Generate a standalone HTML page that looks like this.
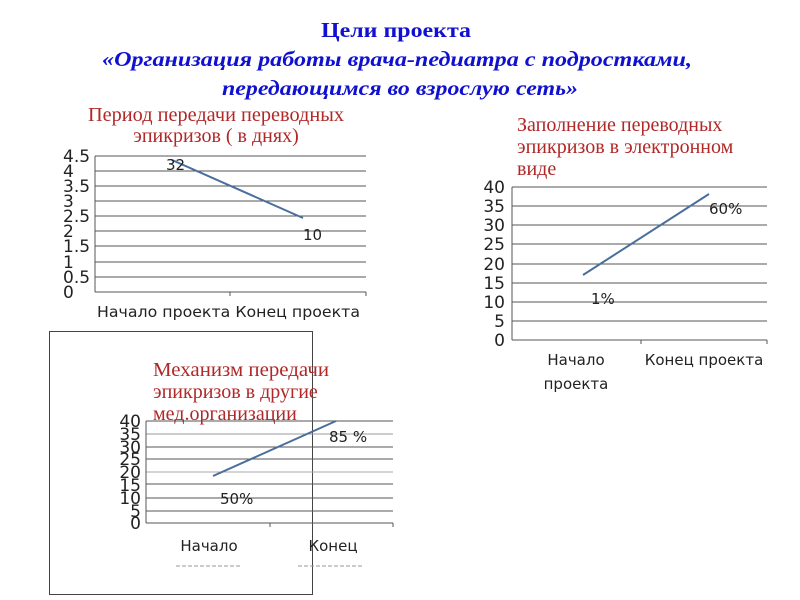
<!DOCTYPE html>
<html><head><meta charset="utf-8"><style>
html,body{margin:0;padding:0;background:#fff;}
svg{display:block;}
.t{font-family:"Liberation Serif","DejaVu Serif",serif;font-weight:bold;fill:#1010D0;font-size:21px;}
.ct{font-family:"Liberation Serif","DejaVu Serif",serif;fill:#B02828;font-size:20px;}
.ax{font-family:"DejaVu Sans","Liberation Sans",sans-serif;fill:#222;font-size:15px;}
.yl{font-family:"DejaVu Sans","Liberation Sans",sans-serif;fill:#222;font-size:17px;}
.g{stroke:#555;stroke-width:1;}
</style></head><body>
<svg width="800" height="600" viewBox="0 0 800 600" xmlns="http://www.w3.org/2000/svg">
<text class="t" x="396" y="37" text-anchor="middle" textLength="150" lengthAdjust="spacingAndGlyphs">Цели проекта</text>
<text class="t" x="397" y="66" text-anchor="middle" font-style="italic" textLength="590" lengthAdjust="spacingAndGlyphs">«Организация работы врача-педиатра с подростками,</text>
<text class="t" x="400" y="95" text-anchor="middle" font-style="italic" textLength="356" lengthAdjust="spacingAndGlyphs">передающимся во взрослую сеть»</text>

<!-- Chart 1 -->
<text class="ct" x="216" y="121" text-anchor="middle" textLength="256" lengthAdjust="spacingAndGlyphs">Период передачи переводных</text>
<text class="ct" x="216" y="142" text-anchor="middle">эпикризов ( в днях)</text>
<g class="g">
<line x1="95" y1="156" x2="366" y2="156"/><line x1="95" y1="171" x2="366" y2="171"/>
<line x1="95" y1="186" x2="366" y2="186"/><line x1="95" y1="201" x2="366" y2="201"/>
<line x1="95" y1="216" x2="366" y2="216"/><line x1="95" y1="231" x2="366" y2="231"/>
<line x1="95" y1="246" x2="366" y2="246"/><line x1="95" y1="262" x2="366" y2="262"/>
<line x1="95" y1="277" x2="366" y2="277"/><line x1="95" y1="292" x2="366" y2="292"/>
<line x1="95" y1="156" x2="95" y2="292"/><line x1="230" y1="292" x2="230" y2="296"/><line x1="366" y1="292" x2="366" y2="296"/>
</g>
<g class="yl">
<text x="63" y="162">4.5</text><text x="63" y="177">4</text><text x="63" y="192">3.5</text><text x="63" y="207">3</text>
<text x="63" y="222">2.5</text><text x="63" y="237">2</text><text x="63" y="252">1.5</text><text x="63" y="268">1</text>
<text x="63" y="283">0.5</text><text x="63" y="298">0</text>
</g>
<line x1="172" y1="160" x2="303" y2="218" stroke="#4A6E9E" stroke-width="2"/>
<text class="ax" x="166" y="170" font-size="16">32</text>
<text class="ax" x="303" y="240" font-size="16">10</text>
<text class="ax" x="97" y="317" textLength="263" lengthAdjust="spacingAndGlyphs">Начало проекта Конец проекта</text>

<!-- Chart 2 -->
<text class="ct" x="517" y="131">Заполнение переводных</text>
<text class="ct" x="517" y="153">эпикризов в электронном</text>
<text class="ct" x="517" y="175">виде</text>
<g class="g">
<line x1="512" y1="187" x2="767" y2="187"/><line x1="512" y1="206" x2="767" y2="206"/>
<line x1="512" y1="225" x2="767" y2="225"/><line x1="512" y1="244" x2="767" y2="244"/>
<line x1="512" y1="264" x2="767" y2="264"/><line x1="512" y1="283" x2="767" y2="283"/>
<line x1="512" y1="302" x2="767" y2="302"/><line x1="512" y1="321" x2="767" y2="321"/>
<line x1="512" y1="340" x2="767" y2="340"/>
<line x1="512" y1="187" x2="512" y2="340"/><line x1="641" y1="340" x2="641" y2="344"/><line x1="767" y1="340" x2="767" y2="344"/>
</g>
<g class="yl" text-anchor="end">
<text x="505" y="193">40</text><text x="505" y="212">35</text><text x="505" y="231">30</text><text x="505" y="250">25</text>
<text x="505" y="270">20</text><text x="505" y="289">15</text><text x="505" y="308">10</text><text x="505" y="327">5</text><text x="505" y="346">0</text>
</g>
<line x1="583" y1="275" x2="709" y2="194" stroke="#4A6E9E" stroke-width="2"/>
<text class="ax" x="709" y="214" font-size="16">60%</text>
<text class="ax" x="591" y="304" font-size="16">1%</text>
<text class="ax" x="576" y="365" text-anchor="middle">Начало</text>
<text class="ax" x="576" y="389" text-anchor="middle">проекта</text>
<text class="ax" x="704" y="365" text-anchor="middle">Конец проекта</text>

<!-- Chart 3 -->
<rect x="49.5" y="331.5" width="263" height="263" fill="none" stroke="#444" stroke-width="1"/>
<text class="ct" x="153" y="376" textLength="176" lengthAdjust="spacingAndGlyphs">Механизм передачи</text>
<text class="ct" x="153" y="398">эпикризов в другие</text>
<text class="ct" x="153" y="420">мед.организации</text>
<g class="g">
<line x1="146" y1="421" x2="393" y2="421"/><line x1="146" y1="434" x2="393" y2="434" stroke="#999"/>
<line x1="146" y1="447" x2="393" y2="447"/><line x1="146" y1="459" x2="393" y2="459"/>
<line x1="146" y1="472" x2="393" y2="472" stroke="#aaa"/><line x1="146" y1="484" x2="393" y2="484"/>
<line x1="146" y1="498" x2="393" y2="498"/><line x1="146" y1="511" x2="393" y2="511"/>
<line x1="146" y1="523" x2="393" y2="523"/>
<line x1="146" y1="421" x2="146" y2="523"/><line x1="270" y1="523" x2="270" y2="527"/><line x1="393" y1="523" x2="393" y2="527"/>
</g>
<g class="yl" text-anchor="end" font-size="17">
<text x="141" y="427">40</text><text x="141" y="440">35</text><text x="141" y="453">30</text><text x="141" y="465">25</text>
<text x="141" y="478">20</text><text x="141" y="491">15</text><text x="141" y="504">10</text><text x="141" y="517">5</text><text x="141" y="529">0</text>
</g>
<line x1="213" y1="476" x2="336" y2="421" stroke="#4A6E9E" stroke-width="2"/>
<text class="ax" x="329" y="442" font-size="16">85 %</text>
<text class="ax" x="220" y="504" font-size="16">50%</text>
<text class="ax" x="209" y="551" text-anchor="middle" font-size="16">Начало</text>
<text class="ax" x="333" y="551" text-anchor="middle" font-size="16">Конец</text>
<line x1="176" y1="566" x2="240" y2="566" stroke="#999" stroke-dasharray="4,2"/>
<line x1="298" y1="566" x2="362" y2="566" stroke="#999" stroke-dasharray="4,2"/>
</svg>
</body></html>
